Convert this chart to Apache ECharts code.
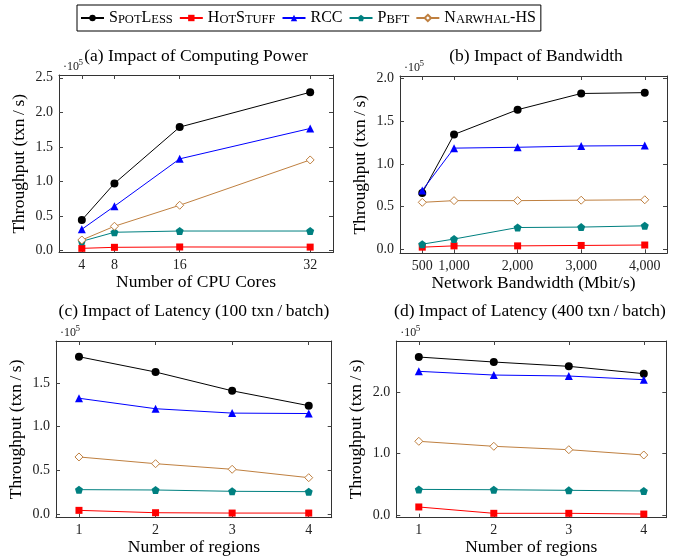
<!DOCTYPE html>
<html>
<head>
<meta charset="utf-8">
<script src="https://cdn.jsdelivr.net/npm/echarts@6/dist/echarts.min.js"></script>
<style>
html, body { margin: 0; padding: 0; background: #fff; }
#chart { width: 673px; height: 558px; }
</style>
</head>
<body>
<div id="chart"></div>
<script>
// throughput values are in units of 10^5 txn/s
const seriesNames = ['SpotLess', 'HotStuff', 'RCC', 'Pbft', 'Narwhal-HS'];

// (a) computing power
const coresX = [4, 8, 16, 32];
const coresSpotLess = [0.44, 0.97, 1.786, 2.29];
const coresHotStuff = [0.03, 0.045, 0.05, 0.048];
const coresRcc = [0.306, 0.64, 1.326, 1.766];
const coresPbft = [0.132, 0.263, 0.281, 0.281];
const coresNarwhal = [0.151, 0.35, 0.654, 1.31];
const coresYTicks = [0, 0.5, 1, 1.5, 2, 2.5];

// (b) bandwidth
const bwX = [500, 1000, 2000, 3000, 4000];
const bwSpotLess = [0.66, 1.345, 1.635, 1.825, 1.835];
const bwHotStuff = [0.025, 0.04, 0.04, 0.045, 0.05];
const bwRcc = [0.69, 1.185, 1.195, 1.21, 1.215];
const bwPbft = [0.06, 0.12, 0.255, 0.26, 0.275];
const bwNarwhal = [0.55, 0.57, 0.57, 0.575, 0.58];
const bwYTicks = [0, 0.5, 1, 1.5, 2];

// (c) latency, 100 txn/batch
const regionsX = [1, 2, 3, 4];
const lat100SpotLess = [1.80, 1.625, 1.41, 1.24];
const lat100HotStuff = [0.042, 0.015, 0.011, 0.011];
const lat100Rcc = [1.325, 1.205, 1.155, 1.15];
const lat100Pbft = [0.279, 0.275, 0.26, 0.256];
const lat100Narwhal = [0.653, 0.576, 0.512, 0.416];
const lat100YTicks = [0, 0.5, 1, 1.5];

// (d) latency, 400 txn/batch
const lat400SpotLess = [2.567, 2.486, 2.416, 2.297];
const lat400HotStuff = [0.135, 0.032, 0.032, 0.02];
const lat400Rcc = [2.335, 2.275, 2.259, 2.199];
const lat400Pbft = [0.42, 0.415, 0.405, 0.394];
const lat400Narwhal = [1.2, 1.119, 1.064, 0.978];
const lat400YTicks = [0, 1, 2];

const FONT = 'Liberation Serif';
const THIN = '\u2009';
const pentagon = 'path://M0,-1 L0.951,-0.309 L0.588,0.809 L-0.588,0.809 L-0.951,-0.309 Z';

const styles = {
  'SpotLess':   { color: '#000000', symbol: 'circle', size: 8 },
  'HotStuff':   { color: '#ff0000', symbol: 'rect', size: 7 },
  'RCC':        { color: '#0000ff', symbol: 'triangle', size: 8 },
  'Pbft':       { color: '#008080', symbol: pentagon, size: 8 },
  'Narwhal-HS': { color: '#bf8040', symbol: 'diamond', size: 8, hollow: true }
};

const panels = [
  {
    title: '(a) Impact of Computing Power', titleX: 196, titleY: 56,
    grid: { left: 59, top: 75, width: 274, height: 177.5 },
    x: coresX, xMin: 1.2, xMax: 34.8, xName: 'Number of CPU Cores', xGap: 20,
    yMin: -0.03, yMax: 2.54, yTicks: coresYTicks,
    data: [coresSpotLess, coresHotStuff, coresRcc, coresPbft, coresNarwhal]
  },
  {
    title: '(b) Impact of Bandwidth', titleX: 536, titleY: 56,
    grid: { left: 400, top: 76, width: 267, height: 177.3 },
    x: bwX, xMin: 150, xMax: 4350, xName: 'Network Bandwidth (Mbit/s)', xGap: 20,
    yMin: -0.047, yMax: 2.03, yTicks: bwYTicks,
    data: [bwSpotLess, bwHotStuff, bwRcc, bwPbft, bwNarwhal]
  },
  {
    title: '(c) Impact of Latency (100 txn' + THIN + '/' + THIN + 'batch)', titleX: 194, titleY: 311,
    grid: { left: 56, top: 341, width: 275.7, height: 176.7 },
    x: regionsX, xMin: 0.7, xMax: 4.3, xName: 'Number of regions', xGap: 20,
    yMin: -0.042, yMax: 1.98, yTicks: lat100YTicks,
    data: [lat100SpotLess, lat100HotStuff, lat100Rcc, lat100Pbft, lat100Narwhal]
  },
  {
    title: '(d) Impact of Latency (400 txn' + THIN + '/' + THIN + 'batch)', titleX: 530, titleY: 311,
    grid: { left: 396.3, top: 341, width: 270, height: 176.7 },
    x: regionsX, xMin: 0.7, xMax: 4.3, xName: 'Number of regions', xGap: 20,
    yMin: -0.039, yMax: 2.827, yTicks: lat400YTicks,
    data: [lat400SpotLess, lat400HotStuff, lat400Rcc, lat400Pbft, lat400Narwhal]
  }
];

const axisLine = { show: true, onZero: false, lineStyle: { color: '#333', width: 1 } };
const tickStyle = { color: '#444', width: 1 };

const grids = [], xAxes = [], yAxes = [], series = [], graphics = [];

panels.forEach((p, i) => {
  grids.push(p.grid);
  const bwFmt = v => (v >= 1000 ? v.toLocaleString('en-US') : String(v));
  xAxes.push({
    type: 'value', gridIndex: i, position: 'bottom', min: p.xMin, max: p.xMax,
    axisLine: axisLine, splitLine: { show: false },
    axisTick: { inside: true, length: 4, lineStyle: tickStyle, customValues: p.x },
    axisLabel: { customValues: p.x, margin: 6, fontFamily: FONT, fontSize: 14, color: '#222', formatter: bwFmt },
    name: p.xName, nameLocation: 'middle', nameGap: p.xGap,
    nameTextStyle: { fontFamily: FONT, fontSize: 17.5, color: '#000' }
  });
  xAxes.push({
    type: 'value', gridIndex: i, position: 'top', min: p.xMin, max: p.xMax,
    axisLine: axisLine, splitLine: { show: false },
    axisTick: { inside: true, length: 4, lineStyle: tickStyle, customValues: p.x },
    axisLabel: { show: false }
  });
  yAxes.push({
    type: 'value', gridIndex: i, position: 'left', min: p.yMin, max: p.yMax,
    axisLine: axisLine, splitLine: { show: false },
    axisTick: { inside: true, length: 4, lineStyle: tickStyle, customValues: p.yTicks },
    axisLabel: { customValues: p.yTicks, margin: 6, fontFamily: FONT, fontSize: 14, color: '#222', formatter: v => v.toFixed(1) },
    name: 'Throughput (txn' + THIN + '/' + THIN + 's)', nameLocation: 'middle', nameGap: 31,
    nameTextStyle: { fontFamily: FONT, fontSize: 17.5, color: '#000' }
  });
  yAxes.push({
    type: 'value', gridIndex: i, position: 'right', min: p.yMin, max: p.yMax,
    axisLine: axisLine, splitLine: { show: false },
    axisTick: { inside: true, length: 4, lineStyle: tickStyle, customValues: p.yTicks },
    axisLabel: { show: false }
  });

  seriesNames.forEach((name, k) => {
    const s = styles[name];
    series.push({
      name: name, type: 'line', xAxisIndex: 2 * i, yAxisIndex: 2 * i,
      data: p.x.map((xv, j) => [xv, p.data[k][j]]),
      symbol: s.symbol, symbolSize: s.size, showSymbol: true,
      lineStyle: { color: s.color, width: 1 },
      itemStyle: s.hollow ? { color: '#fff', borderColor: s.color, borderWidth: 1 } : { color: s.color },
      emphasis: { disabled: true }, animation: false
    });
  });

  graphics.push({
    type: 'text', x: p.titleX, y: p.titleY,
    style: { text: p.title, font: '17.5px "' + FONT + '"', fill: '#000',
      align: 'center', textAlign: 'center', verticalAlign: 'middle', textVerticalAlign: 'middle' }
  });
  const ex = p.grid.left + 4, ey = p.grid.top - 8;
  graphics.push({
    type: 'text', x: ex, y: ey,
    style: { text: '·10', font: '12px "' + FONT + '"', fill: '#222',
      align: 'left', textAlign: 'left', verticalAlign: 'middle', textVerticalAlign: 'middle' }
  });
  graphics.push({
    type: 'text', x: ex + 15.5, y: ey - 4,
    style: { text: '5', font: '9px "' + FONT + '"', fill: '#222',
      align: 'left', textAlign: 'left', verticalAlign: 'middle', textVerticalAlign: 'middle' }
  });
});

const legendText = {
  'SpotLess': '{c|S}{s|POT}{c|L}{s|ESS}',
  'HotStuff': '{c|H}{s|OT}{c|S}{s|TUFF}',
  'RCC': '{c|RCC}',
  'Pbft': '{c|P}{s|BFT}',
  'Narwhal-HS': '{c|N}{s|ARWHAL}{c|-HS}'
};

const chart = echarts.init(document.getElementById('chart'), null, { renderer: 'canvas' });
chart.setOption({
  animation: false,
  backgroundColor: '#fff',
  grid: grids,
  xAxis: xAxes,
  yAxis: yAxes,
  legend: {
    data: seriesNames, left: 77, top: 5, orient: 'horizontal',
    itemWidth: 23, itemHeight: 8, itemGap: 6,
    padding: [5, 5, 5, 3], borderColor: '#000', borderWidth: 1,
    selectedMode: false,
    formatter: name => legendText[name],
    textStyle: {
      fontFamily: FONT, color: '#000',
      rich: {
        c: { fontFamily: FONT, fontSize: 16, color: '#000', verticalAlign: 'bottom' },
        s: { fontFamily: FONT, fontSize: 12.5, color: '#000', verticalAlign: 'bottom' }
      }
    }
  },
  graphic: graphics,
  series: series
});
</script>
</body>
</html>
